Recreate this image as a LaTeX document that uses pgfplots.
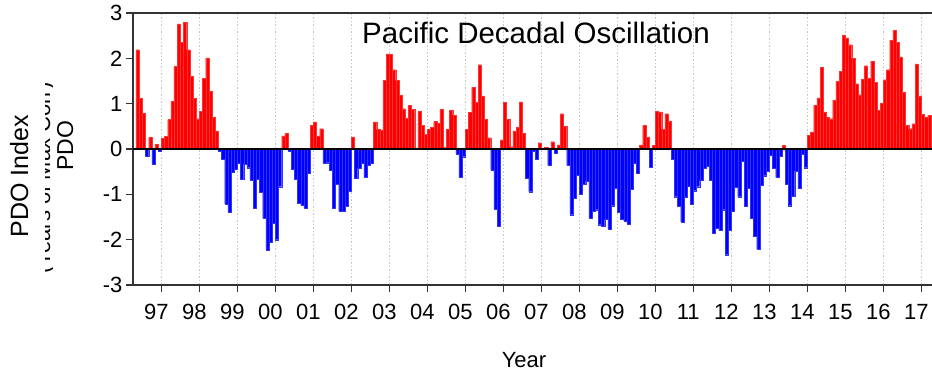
\documentclass[border=0pt]{standalone}
\usepackage{fontspec}
\setmainfont{Liberation Sans}
\usepackage{pgfplots}
\usepackage{pgfplotstable}
\pgfplotsset{compat=1.18}

% Monthly PDO index, May 1996 -- Mar 2017
\pgfplotstableread[row sep=\\]{
yr mo v \\
1996 5 2.19 \\ 1996 6 1.12 \\ 1996 7 0.79 \\ 1996 8 -0.15 \\ 1996 9 0.26 \\ 1996 10 -0.34 \\ 1996 11 0.11 \\ 1996 12 -0.04 \\
1997 1 0.23 \\ 1997 2 0.28 \\ 1997 3 0.65 \\ 1997 4 1.05 \\ 1997 5 1.83 \\ 1997 6 2.76 \\ 1997 7 2.35 \\ 1997 8 2.79 \\ 1997 9 2.19 \\ 1997 10 1.61 \\ 1997 11 1.12 \\ 1997 12 0.67 \\
1998 1 0.83 \\ 1998 2 1.56 \\ 1998 3 2.01 \\ 1998 4 1.27 \\ 1998 5 0.70 \\ 1998 6 0.40 \\ 1998 7 -0.04 \\ 1998 8 -0.22 \\ 1998 9 -1.21 \\ 1998 10 -1.39 \\ 1998 11 -0.52 \\ 1998 12 -0.44 \\
1999 1 -0.32 \\ 1999 2 -0.66 \\ 1999 3 -0.33 \\ 1999 4 -0.41 \\ 1999 5 -0.68 \\ 1999 6 -1.30 \\ 1999 7 -0.66 \\ 1999 8 -0.96 \\ 1999 9 -1.53 \\ 1999 10 -2.23 \\ 1999 11 -2.05 \\ 1999 12 -1.63 \\
2000 1 -2.00 \\ 2000 2 -0.83 \\ 2000 3 0.29 \\ 2000 4 0.35 \\ 2000 5 -0.05 \\ 2000 6 -0.44 \\ 2000 7 -0.66 \\ 2000 8 -1.19 \\ 2000 9 -1.24 \\ 2000 10 -1.30 \\ 2000 11 -0.53 \\ 2000 12 0.52 \\
2001 1 0.60 \\ 2001 2 0.29 \\ 2001 3 0.45 \\ 2001 4 -0.31 \\ 2001 5 -0.30 \\ 2001 6 -0.47 \\ 2001 7 -1.31 \\ 2001 8 -0.77 \\ 2001 9 -1.37 \\ 2001 10 -1.37 \\ 2001 11 -1.26 \\ 2001 12 -0.93 \\
2002 1 0.27 \\ 2002 2 -0.64 \\ 2002 3 -0.43 \\ 2002 4 -0.32 \\ 2002 5 -0.63 \\ 2002 6 -0.35 \\ 2002 7 -0.31 \\ 2002 8 0.60 \\ 2002 9 0.43 \\ 2002 10 0.42 \\ 2002 11 1.51 \\ 2002 12 2.10 \\
2003 1 2.09 \\ 2003 2 1.75 \\ 2003 3 1.51 \\ 2003 4 1.18 \\ 2003 5 0.89 \\ 2003 6 0.68 \\ 2003 7 0.96 \\ 2003 8 0.88 \\ 2003 9 0.01 \\ 2003 10 0.83 \\ 2003 11 0.52 \\ 2003 12 0.33 \\
2004 1 0.43 \\ 2004 2 0.48 \\ 2004 3 0.61 \\ 2004 4 0.57 \\ 2004 5 0.88 \\ 2004 6 0.04 \\ 2004 7 0.44 \\ 2004 8 0.85 \\ 2004 9 0.75 \\ 2004 10 -0.11 \\ 2004 11 -0.63 \\ 2004 12 -0.17 \\
2005 1 0.44 \\ 2005 2 0.81 \\ 2005 3 1.36 \\ 2005 4 1.03 \\ 2005 5 1.86 \\ 2005 6 1.17 \\ 2005 7 0.66 \\ 2005 8 0.25 \\ 2005 9 -0.46 \\ 2005 10 -1.32 \\ 2005 11 -1.70 \\ 2005 12 0.20 \\
2006 1 1.03 \\ 2006 2 0.66 \\ 2006 3 0.05 \\ 2006 4 0.40 \\ 2006 5 0.48 \\ 2006 6 1.04 \\ 2006 7 0.35 \\ 2006 8 -0.65 \\ 2006 9 -0.94 \\ 2006 10 -0.05 \\ 2006 11 -0.22 \\ 2006 12 0.14 \\
2007 1 0.01 \\ 2007 2 0.04 \\ 2007 3 -0.36 \\ 2007 4 0.16 \\ 2007 5 -0.10 \\ 2007 6 0.09 \\ 2007 7 0.78 \\ 2007 8 0.50 \\ 2007 9 -0.36 \\ 2007 10 -1.45 \\ 2007 11 -1.08 \\ 2007 12 -0.58 \\
2008 1 -1.00 \\ 2008 2 -0.77 \\ 2008 3 -0.71 \\ 2008 4 -1.52 \\ 2008 5 -1.37 \\ 2008 6 -1.34 \\ 2008 7 -1.67 \\ 2008 8 -1.70 \\ 2008 9 -1.55 \\ 2008 10 -1.76 \\ 2008 11 -1.25 \\ 2008 12 -0.87 \\
2009 1 -1.40 \\ 2009 2 -1.55 \\ 2009 3 -1.59 \\ 2009 4 -1.65 \\ 2009 5 -0.88 \\ 2009 6 -0.31 \\ 2009 7 -0.53 \\ 2009 8 0.09 \\ 2009 9 0.52 \\ 2009 10 0.27 \\ 2009 11 -0.40 \\ 2009 12 0.08 \\
2010 1 0.83 \\ 2010 2 0.82 \\ 2010 3 0.44 \\ 2010 4 0.78 \\ 2010 5 0.62 \\ 2010 6 -0.22 \\ 2010 7 -1.05 \\ 2010 8 -1.27 \\ 2010 9 -1.61 \\ 2010 10 -1.06 \\ 2010 11 -0.82 \\ 2010 12 -1.21 \\
2011 1 -0.92 \\ 2011 2 -0.83 \\ 2011 3 -0.69 \\ 2011 4 -0.42 \\ 2011 5 -0.37 \\ 2011 6 -0.69 \\ 2011 7 -1.86 \\ 2011 8 -1.74 \\ 2011 9 -1.79 \\ 2011 10 -1.34 \\ 2011 11 -2.33 \\ 2011 12 -1.79 \\
2012 1 -1.38 \\ 2012 2 -0.85 \\ 2012 3 -1.05 \\ 2012 4 -0.27 \\ 2012 5 -1.26 \\ 2012 6 -0.87 \\ 2012 7 -1.52 \\ 2012 8 -1.93 \\ 2012 9 -2.21 \\ 2012 10 -0.79 \\ 2012 11 -0.59 \\ 2012 12 -0.48 \\
2013 1 -0.13 \\ 2013 2 -0.43 \\ 2013 3 -0.63 \\ 2013 4 -0.16 \\ 2013 5 0.08 \\ 2013 6 -0.78 \\ 2013 7 -1.25 \\ 2013 8 -1.04 \\ 2013 9 -0.48 \\ 2013 10 -0.87 \\ 2013 11 -0.11 \\ 2013 12 -0.41 \\
2014 1 0.30 \\ 2014 2 0.38 \\ 2014 3 0.97 \\ 2014 4 1.13 \\ 2014 5 1.80 \\ 2014 6 0.82 \\ 2014 7 0.70 \\ 2014 8 0.67 \\ 2014 9 1.08 \\ 2014 10 1.49 \\ 2014 11 1.72 \\ 2014 12 2.51 \\
2015 1 2.45 \\ 2015 2 2.30 \\ 2015 3 2.00 \\ 2015 4 1.44 \\ 2015 5 1.20 \\ 2015 6 1.54 \\ 2015 7 1.84 \\ 2015 8 1.56 \\ 2015 9 1.94 \\ 2015 10 1.47 \\ 2015 11 0.86 \\ 2015 12 1.01 \\
2016 1 1.53 \\ 2016 2 1.75 \\ 2016 3 2.40 \\ 2016 4 2.62 \\ 2016 5 2.35 \\ 2016 6 2.03 \\ 2016 7 1.25 \\ 2016 8 0.52 \\ 2016 9 0.45 \\ 2016 10 0.56 \\ 2016 11 1.88 \\ 2016 12 1.17 \\
2017 1 0.77 \\ 2017 2 0.70 \\ 2017 3 0.74 \\
}\pdotable

\begin{document}
\begin{tikzpicture}[x=1pt,y=1pt]
\useasboundingbox (0,0) rectangle (932,372);
\begin{axis}[
  at={(133pt,87pt)}, anchor=south west,
  scale only axis, width=799pt, height=272pt,
  xmin=1996.255, xmax=2017.28, ymin=-3, ymax=3,
  axis x line=box, axis y line=left,
  axis line style={-, line width=1.2pt, black!80},
  every outer x axis line/.append style={-},
  every outer y axis line/.append style={-},
  xtick={1997,...,2017},
  xticklabels={97,98,99,00,01,02,03,04,05,06,07,08,09,10,11,12,13,14,15,16,17},
  ytick={-3,...,3},
  yticklabels={-3,-2,-1,0,1,2,3},
  tick pos=left, tick align=outside, major tick length=7pt,
  tick style={black!80, line width=1.2pt},
  xmajorgrids,
  major grid style={gray!45, line width=1pt, dash pattern=on 1.5pt off 2pt},
  ticklabel style={font=\fontsize{22}{22}\selectfont},
  xticklabel style={xshift=-5pt, yshift=-9pt},
  ybar, bar width=0.0833,
]
\addplot[fill=red, draw=red!80!white, line width=0.15pt, bar shift=0pt,
  restrict y to domain=0:5]
  table[x expr=\thisrow{yr}+(\thisrow{mo}-0.5)/12, y=v] {\pdotable};
\addplot[fill=blue, draw=blue!80!white, line width=0.15pt, bar shift=0pt,
  restrict y to domain=-5:0]
  table[x expr=\thisrow{yr}+(\thisrow{mo}-0.5)/12, y=v] {\pdotable};
% zero line
\draw[black, line width=1.3pt] (rel axis cs:0,0.5) -- (rel axis cs:1,0.5);
\end{axis}
% title and labels
\node[anchor=base, font=\fontsize{29.5}{30}\selectfont] at (536,328) {Pacific Decadal Oscillation};
\node[anchor=base, font=\fontsize{22}{22}\selectfont] at (524,4) {Year};
\node[rotate=90, anchor=base, font=\fontsize{25}{25}\selectfont] at (28,196) {PDO Index};
\node[rotate=90, anchor=base, font=\fontsize{23}{23}\selectfont] at (73,226) {PDO};
\begin{scope}
  \clip (45,0) rectangle (52,372);
  \node[rotate=90, anchor=base, font=\fontsize{22}{22}\selectfont] at (50,194) {(Years of Max Corr)};
\end{scope}
\end{tikzpicture}
\end{document}
